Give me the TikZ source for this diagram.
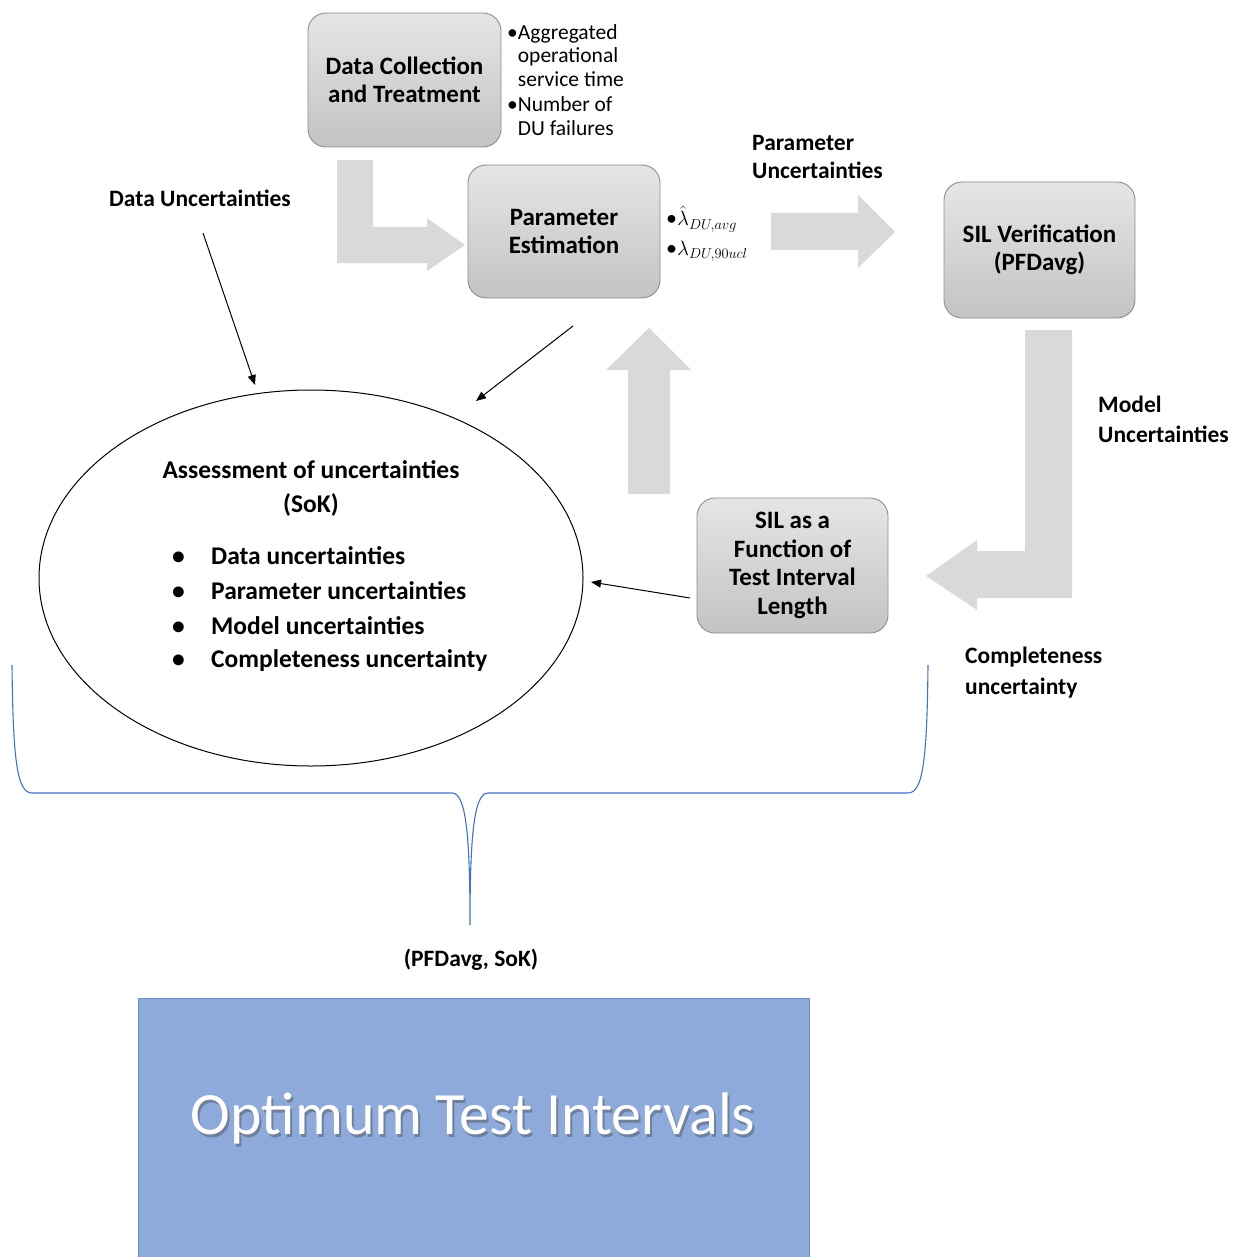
\documentclass[tikz,border=0pt]{standalone}
\usepackage{fontspec}
\setmainfont{Carlito}
\usetikzlibrary{shapes.geometric,arrows.meta}
\definecolor{boxline}{HTML}{8C8C8C}
\definecolor{bigarrow}{HTML}{D9D9D9}
\definecolor{bracecol}{HTML}{4472C4}
\definecolor{optfill}{HTML}{8EAADB}
\definecolor{optline}{HTML}{6A8FD0}
\tikzset{
  gbox/.style={rectangle, rounded corners=18pt, draw=boxline, line width=0.9pt,
    top color=gray!20, bottom color=gray!47, inner sep=4pt,
    font=\bfseries\fontsize{25}{28.5}\selectfont, align=center},
  lbl/.style={font=\bfseries\fontsize{23.5}{28}\selectfont, align=left, inner sep=0pt},
  bul/.style={font=\fontsize{21.5}{23.5}\selectfont, align=left, inner sep=0pt},
  lamb/.style={font=\fontsize{22}{26}\selectfont, inner sep=0pt, anchor=west},
  ell/.style={font=\bfseries\fontsize{25.5}{28}\selectfont, inner sep=0pt},
  thinarr/.style={line width=1pt, -{Triangle[length=10pt,width=8pt]}},
  fat/.style={fill=bigarrow, draw=none},
  brace/.style={draw=bracecol, line width=1.1pt}
}
\begin{document}
\begin{tikzpicture}[x=1pt,y=-1pt]
\useasboundingbox (0,0) rectangle (1240,1257);

% big gray arrows
\fill[fat] (337,160) -- (373,160) -- (373,227) -- (427,227) -- (427,218) -- (465,245) -- (427,271) -- (427,263) -- (337,263) -- cycle;
\fill[fat] (771,213) -- (858,213) -- (858,195) -- (895,232) -- (858,268) -- (858,250) -- (771,250) -- cycle;
\fill[fat] (628,494) -- (628,370) -- (606,370) -- (649,328) -- (691,370) -- (670,370) -- (670,494) -- cycle;
\fill[fat] (1025,330) -- (1072,330) -- (1072,598) -- (977,598) -- (977,610) -- (926,576) -- (977,540) -- (977,551) -- (1025,551) -- cycle;

% boxes
\node[gbox, minimum width=193pt, minimum height=134pt] (dct) at (404.5,80) {Data Collection\\and Treatment};
\node[gbox, minimum width=192pt, minimum height=133pt] (pe) at (564,231.5) {Parameter\\Estimation};
\node[gbox, minimum width=191pt, minimum height=136pt] (silv) at (1039.5,250) {SIL Verification\\(PFDavg)};
\node[gbox, minimum width=191pt, minimum height=135pt] (silf) at (792.5,565.5) {SIL as a\\Function of\\Test Interval\\Length};

% bullet texts
\node[bul, anchor=north west] (agg) at (507,24) {•Aggregated\\\hphantom{•}operational\\\hphantom{•}service time\\[2pt]•Number of\\\hphantom{•}DU failures};
\node[lamb] (lam1) at (666,219) {•$\hat{\lambda}_{DU,avg}$};
\node[lamb] (lam2) at (666,251) {•$\lambda_{DU,90ucl}$};

% labels
\node[lbl] (du) at (200,198) {Data Uncertainties};
\node[lbl, anchor=west] (pu) at (752,157) {Parameter\\Uncertainties};
\node[lbl, anchor=west, font=\bfseries\fontsize{23.5}{30}\selectfont] (mu) at (1098,419) {Model\\Uncertainties};
\node[lbl, anchor=west, font=\bfseries\fontsize{23.5}{31}\selectfont] (cu) at (965,673) {Completeness\\uncertainty};
\node[lbl] (sok) at (471,960) {(PFDavg, SoK)};

% ellipse
\node[ellipse, draw=black, line width=1pt, minimum width=544pt, minimum height=376pt, inner sep=0pt] (assess) at (311,578) {};
\node[ell] (t1) at (311,470) {Assessment of uncertainties};
\node[ell] (t2) at (311,505) {(SoK)};
\node[ell, anchor=west] (b1) at (172,556) {\makebox[39pt][l]{•}Data uncertainties};
\node[ell, anchor=west] (b2) at (172,591) {\makebox[39pt][l]{•}Parameter uncertainties};
\node[ell, anchor=west] (b3) at (172,626) {\makebox[39pt][l]{•}Model uncertainties};
\node[ell, anchor=west] (b4) at (172,661) {\makebox[39pt][l]{•}Completeness uncertainty};

% thin arrows
\coordinate (a1s) at (203,233);
\coordinate (a1e) at (255,385);
\coordinate (a2s) at (573,326);
\coordinate (a2e) at (476,401);
\coordinate (a3s) at (690,598);
\coordinate (a3e) at (591,582);
\draw[thinarr] (a1s) -- (a1e);
\draw[thinarr] (a2s) -- (a2e);
\draw[thinarr] (a3s) -- (a3e);

% brace
\draw[brace] (12,665) .. controls (13,760) and (17,793) .. (32,793) -- (452,793)
  .. controls (466,793) and (470,835) .. (470,925)
  .. controls (470,835) and (474,793) .. (488,793) -- (908,793)
  .. controls (923,793) and (927,760) .. (928,665);

% bottom box
\node[rectangle, fill=optfill, draw=optline, line width=1pt, minimum width=671pt, minimum height=270pt, anchor=north west, inner sep=0pt] (opt) at (138,998) {};
\node[font=\fontsize{60}{64}\selectfont, text=gray!60!black, opacity=0.45, inner sep=0pt] (optsh) at (475,1121) {Optimum Test Intervals};
\node[font=\fontsize{60}{64}\selectfont, text=white, inner sep=0pt] (optt) at (473,1118) {Optimum Test Intervals};
\end{tikzpicture}
\end{document}
